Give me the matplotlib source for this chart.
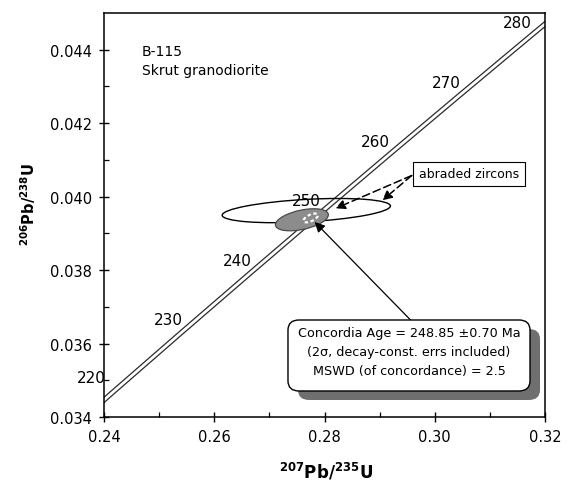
import numpy as np
import matplotlib
matplotlib.use('Agg')
import matplotlib.pyplot as plt
from matplotlib.patches import Circle, FancyBboxPatch, Rectangle
from matplotlib.transforms import Affine2D
from matplotlib.ticker import FormatStrFormatter, FixedLocator

# Concordia points (age in Ma, 207Pb/235U, 206Pb/238U)
ages = [210, 220, 230, 240, 250, 260, 270, 280, 290]
conc_x = [0.22976, 0.24192, 0.25421, 0.26663, 0.27916, 0.29182, 0.30461, 0.31752, 0.33056]
conc_y = [0.033113, 0.034717, 0.036323, 0.037932, 0.039543, 0.041157, 0.042773, 0.044392, 0.046014]
label_ages = [220, 230, 240, 250, 260, 270, 280]

# error ellipses: centre x, centre y, sigma x, sigma y, rho
big_ellipse = [0.2767, 0.03962, 0.01526, 0.00033, 0.38]
gray_ellipse = [0.2759, 0.03937, 0.0048, 0.00030, 0.45]
age_ellipse = [0.2775, 0.03942, 0.0013, 0.00012, 0.6]

xticks = [0.24, 0.26, 0.28, 0.30, 0.32]
yticks = [0.034, 0.036, 0.038, 0.040, 0.042, 0.044]

sample_lines = ['B-115', 'Skrut granodiorite']
result_lines = ['Concordia Age = 248.85 \u00b10.70 Ma',
                '(2\u03c3, decay-const. errs included)',
                'MSWD (of concordance) = 2.5']

plt.rcParams['font.family'] = ['DejaVu Sans']
plt.rcParams['mathtext.fontset'] = 'dejavusans'

fig = plt.figure(figsize=(5.68, 4.85), dpi=100)
ax = fig.add_axes([104/568, 67/485, 441/568, 404/485])

ax.set_xlim(0.24, 0.32)
ax.set_ylim(0.034, 0.045)
ax.xaxis.set_major_locator(FixedLocator(xticks))
ax.yaxis.set_major_locator(FixedLocator(yticks))
ax.xaxis.set_minor_locator(FixedLocator([0.25, 0.27, 0.29, 0.31]))
ax.yaxis.set_minor_locator(FixedLocator([0.035, 0.037, 0.039, 0.041, 0.043]))
ax.xaxis.set_major_formatter(FormatStrFormatter('%.2f'))
ax.yaxis.set_major_formatter(FormatStrFormatter('%.3f'))
ax.tick_params(which='major', direction='inout', length=7.5, width=1.0,
               labelsize=10.5, pad=5)
ax.tick_params(which='minor', direction='in', length=3.6, width=0.9)
for s in ax.spines.values():
    s.set_linewidth(1.1)

# concordia as a double line
ax.plot(conc_x, conc_y, color='#2a2a2a', lw=3.8, solid_capstyle='butt', zorder=2)
ax.plot(conc_x, conc_y, color='white', lw=2.0, solid_capstyle='butt', zorder=2.1)

for a in label_ages:
    i = ages.index(a)
    off = (-10, 9) if a != 220 else (-17, 9.5)
    ax.annotate(str(a), (conc_x[i], conc_y[i]), xytext=off, textcoords='offset points',
                ha='center', va='center', fontsize=11, annotation_clip=False, zorder=7)


def add_ellipse(e, **kw):
    cx, cy, sx, sy, rho = e
    cov = np.array([[sx * sx, rho * sx * sy], [rho * sx * sy, sy * sy]])
    L = np.linalg.cholesky(cov)
    t = Affine2D(np.array([[L[0, 0], L[0, 1], cx], [L[1, 0], L[1, 1], cy], [0, 0, 1]]))
    p = Circle((0, 0), 1, transform=t + ax.transData, **kw)
    ax.add_patch(p)
    return p


add_ellipse(big_ellipse, fill=False, ec='black', lw=1.0, zorder=3)
add_ellipse(gray_ellipse, fc='#8c8c8c', ec='#4a4a4a', lw=0.9, zorder=4)
add_ellipse(age_ellipse, fill=False, ec='white', lw=1.6, ls=(0, (1.5, 1.2)), zorder=5)

# sample name
ax.text(0.0855, (418 - 51.7) / 404, sample_lines[0], transform=ax.transAxes,
        ha='left', va='center', fontsize=10)
ax.text(0.0855, (418 - 70.7) / 404, sample_lines[1], transform=ax.transAxes,
        ha='left', va='center', fontsize=10)

# abraded zircons label and arrows
ax.add_patch(Rectangle((0.700, 0.5725), 0.2546, 0.058, transform=ax.transAxes,
                       fc='white', ec='black', lw=0.8, zorder=6))
ax.text(0.8273, 0.6015, 'abraded zircons', transform=ax.transAxes,
        ha='center', va='center', fontsize=9, zorder=7)
for tip in [(0.2820, 0.03968), (0.2905, 0.03990)]:
    ax.annotate('', xy=tip, xytext=(0.29582, 0.040575),
                arrowprops=dict(arrowstyle='-|>', color='black', lw=1.1, ls=(0, (5, 2.5)),
                                mutation_scale=14, shrinkA=0, shrinkB=0), zorder=6)

# concordia age arrow
ax.annotate('', xy=(0.27822, 0.03931), xytext=(0.29560, 0.036643),
            arrowprops=dict(arrowstyle='-|>', color='black', lw=0.9,
                            mutation_scale=15, shrinkA=0, shrinkB=0), zorder=6)

# result box with shadow
bx, by, bw, bh = 0.4172, 0.0644, 0.5488, 0.1757
ax.add_patch(FancyBboxPatch((bx + 0.0227, by - 0.0223), bw, bh,
                            boxstyle='round,pad=0,rounding_size=0.025',
                            transform=ax.transAxes, fc='#6f6f6f', ec='none', zorder=7))
ax.add_patch(FancyBboxPatch((bx, by), bw, bh,
                            boxstyle='round,pad=0,rounding_size=0.025',
                            transform=ax.transAxes, fc='white', ec='black', lw=1.0, zorder=8))
for yy, line in zip([0.2097, 0.1616, 0.1146], result_lines):
    ax.text(bx + bw / 2, yy, line, transform=ax.transAxes, ha='center', va='center',
            fontsize=9.2, zorder=9)

# axis labels
fig.text(326 / 568, 1 - 472 / 485, r'$\mathbf{^{207}Pb/^{235}U}$', ha='center', va='center',
         fontsize=12)
fig.text(28 / 568, 1 - 204 / 485, r'$\mathbf{^{206}Pb/^{238}U}$', ha='center', va='center',
         fontsize=10.5, rotation=90)

fig.savefig('out.png', dpi=100)
